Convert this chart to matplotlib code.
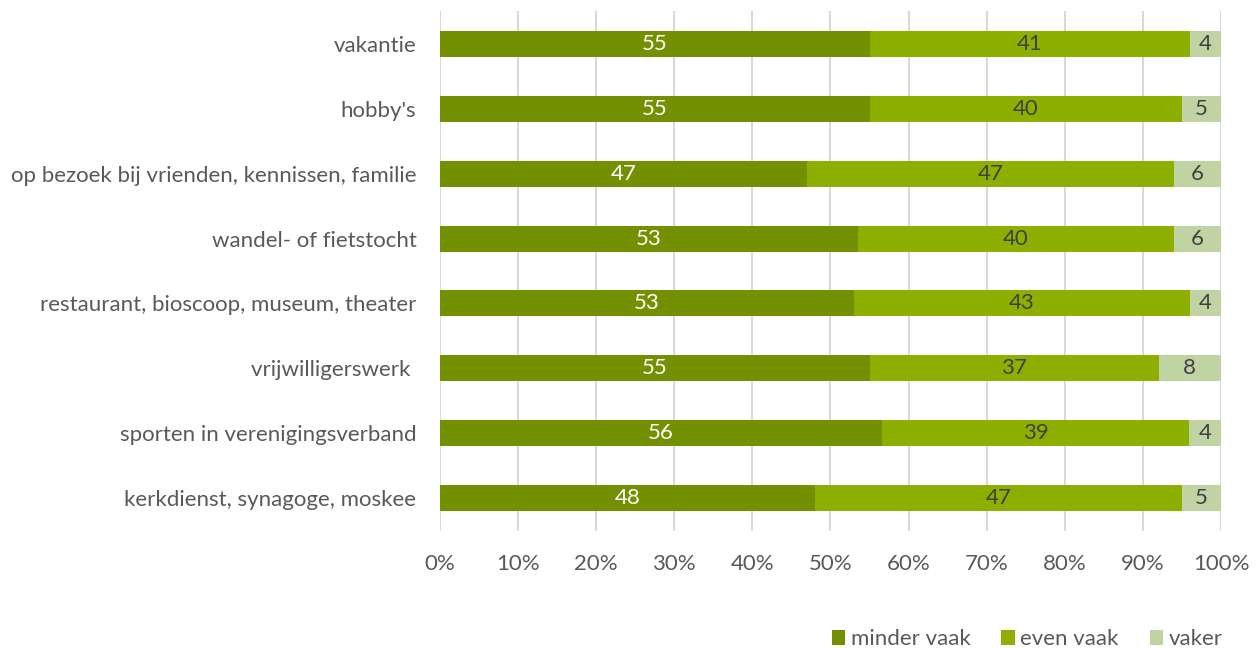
import matplotlib
matplotlib.use("Agg")
import matplotlib.pyplot as plt
from matplotlib.patches import Patch
from matplotlib.ticker import PercentFormatter

plt.rcParams['font.family'] = ['Lato', 'DejaVu Sans']

# Activities, top to bottom
categories = [
    "vakantie",
    "hobby's",
    "op bezoek bij vrienden, kennissen, familie",
    "wandel- of fietstocht",
    "restaurant, bioscoop, museum, theater",
    "vrijwilligerswerk ",
    "sporten in verenigingsverband",
    "kerkdienst, synagoge, moskee",
]
minder_vaak = [55, 55, 47, 53, 53, 55, 56, 48]
even_vaak = [41, 40, 47, 40, 43, 37, 39, 47]
vaker = [4, 5, 6, 6, 4, 8, 4, 5]

series = [
    ("minder vaak", minder_vaak, "#739000", "white"),
    ("even vaak", even_vaak, "#8db000", "#404040"),
    ("vaker", vaker, "#c0d3a3", "#404040"),
]

FS = 16

fig = plt.figure(figsize=(12.59, 6.48), dpi=100)
ax = fig.add_axes([0.3495, 0.1813, 0.6203, 0.801])

n = len(categories)
ypos = [n - 1 - i for i in range(n)]
totals = [a + b + c for a, b, c in zip(minder_vaak, even_vaak, vaker)]

# stacked bars scaled to 100% per row
left = [0.0] * n
for name, vals, color, tcolor in series:
    widths = [v / t * 100 for v, t in zip(vals, totals)]
    ax.barh(ypos, widths, left=left, height=0.4, color=color,
            edgecolor="none", zorder=3)
    for y, l, w, v in zip(ypos, left, widths, vals):
        ax.text(l + w / 2, y, str(v), ha="center", va="center",
                fontsize=FS, color=tcolor, zorder=4)
    left = [l + w for l, w in zip(left, widths)]

ax.set_xlim(0, 100)
ax.set_ylim(-0.5, n - 0.5)
ax.set_xticks(range(0, 101, 10))
ax.xaxis.set_major_formatter(PercentFormatter(decimals=0))
ax.set_yticks(ypos)
ax.set_yticklabels(categories)
ax.tick_params(axis="both", length=0, labelsize=FS, colors="#595959")
ax.tick_params(axis="x", pad=17)
ax.tick_params(axis="y", pad=17)
ax.grid(axis="x", color="#d9d9d9", linewidth=1.5, zorder=0)
for s in ax.spines.values():
    s.set_visible(False)

handles = [Patch(facecolor=c, edgecolor="none") for _, _, c, _ in series]
labels = [name for name, _, _, _ in series]
fig.legend(handles, labels, loc="lower right", bbox_to_anchor=(0.987, -0.033),
           ncol=3, frameon=False, fontsize=FS, handlelength=0.6,
           handleheight=0.6, handletextpad=0.25, columnspacing=1.4,
           labelcolor="#595959")

fig.savefig("out.png", dpi=100)
